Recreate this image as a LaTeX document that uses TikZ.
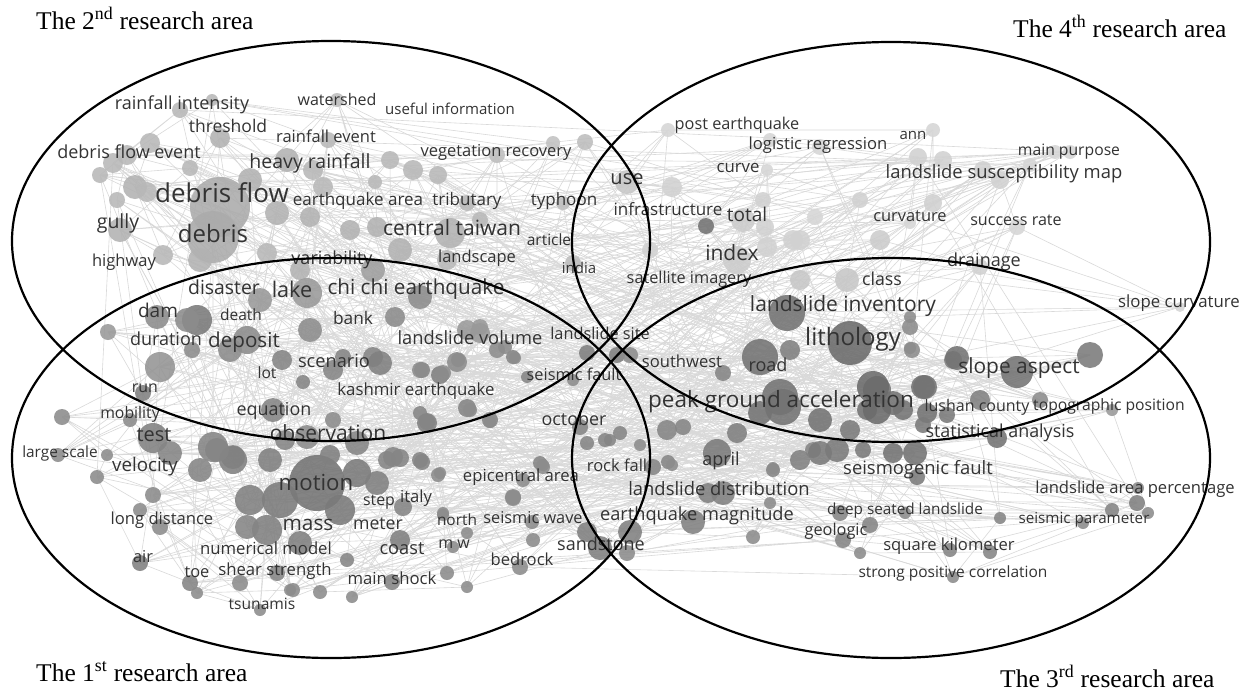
\documentclass[tikz,border=0pt]{standalone}
\usepackage{fontspec}
\setsansfont{Open Sans}
\newfontfamily\titlefont{Liberation Serif}
\begin{document}
\begin{tikzpicture}[x=1pt,y=-1pt,
  edge/.style={draw=black!15, line width=0.6pt},
  bubble/.style={opacity=0.88},
  lbl/.style={inner sep=0pt, anchor=mid, text=black!80},
  areatitle/.style={inner sep=0pt, anchor=base west, font=\titlefont\fontsize{25.5}{25.5}\selectfont},
  ring/.style={draw=black, line width=2.2pt}]
\useasboundingbox (0,0) rectangle (1250,691);
\fill[white] (0,0) rectangle (1250,691);
\def\bubbles{%
180/110/8/28, 212/100/6/28, 220/138/10/30, 150/143/10/28, 113/163/10/28, 127/155/10/28, 190/168/8/28, 135/187/12/30, 147/192/10/28, 117/200/8/28, 120/230/12/30, 220/207/30/33, 213/237/26/33, 200/260/12/30, 163/255/10/28, 267/253/10/28, 310/217/10/30, 277/213/12/30, 323/187/10/28, 287/160/12/30, 313/170/10/28, 337/100/7/26, 328/140/8/28, 390/160/9/28, 375/182/7/28, 377/227/10/30, 413/170/10/28, 438/175/9/28, 497/155/8/26, 553/143/7/24, 585/142/8/26, 450/233/15/30, 467/203/8/28, 480/220/8/28, 563/203/7/26, 447/260/10/28, 573/263/8/26, 100/175/8/28, 250/180/12/30, 350/230/10/30, 400/250/12/30, 300/270/10/30,
627/182/12/22, 672/187/10/18, 706/226/8/55, 743/220/12/20, 765/227/9/18, 763/200/8/18, 737/260/14/20, 767/247/10/18, 793/240/10/18, 668/130/7/16, 770/140/7/16, 767/170/6/16, 650/250/8/18, 933/130/7/16, 918/157/9/18, 943/160/9/18, 820/147/8/16, 933/203/9/18, 910/223/6/16, 815/217/8/16, 983/170/9/18, 1000/180/9/18, 1030/165/7/16, 1055/152/7/16, 1070/152/7/16, 1017/227/8/16, 980/267/8/18, 800/240/10/18, 847/280/12/22, 1180/307/5/16, 800/280/10/22, 880/240/10/20, 860/200/8/18,
197/320/15/52, 157/317/12/45, 108/332/8/40, 192/350/8/45, 230/350/12/45, 160/367/15/42, 143/393/8/50, 62/417/8/45, 130/420/7/45, 153/438/15/50, 170/453/12/48, 107/455/6/45, 58/455/7/45, 213/447/15/48, 233/457/12/48, 282/360/10/48, 247/340/14/45, 303/382/7/48, 273/410/12/48, 310/330/12/45, 333/370/10/48, 373/357/10/48, 395/317/10/45, 333/420/8/45, 307/437/12/45, 357/443/12/48, 420/297/12/45, 380/363/12/50, 343/357/8/48, 422/370/8/48, 440/375/9/50, 457/362/10/45, 480/333/10/40, 497/350/8/45, 513/357/7/48, 527/377/6/48, 427/423/10/50, 467/408/9/48, 490/420/8/48, 540/463/7/48, 420/460/8/48, 393/457/10/48, 260/300/12/40, 307/293/15/40, 373/270/12/38, 187/320/12/45,
317/483/28/55, 280/500/18/52, 340/510/15/52, 250/500/15/50, 233/460/14/50, 217/450/12/48, 357/473/14/52, 377/483/12/50, 387/460/9/48, 400/458/9/48, 422/462/8/48, 438/475/7/45, 300/543/12/50, 267/530/15/50, 247/527/12/48, 400/540/10/50, 403/507/9/48, 347/560/7/48, 293/590/7/45, 320/592/7/45, 352/597/6/45, 392/582/8/48, 447/573/7/45, 467/587/6/45, 453/547/6/45, 467/533/6/45, 443/513/6/45, 513/497/8/45, 532/522/7/45, 533/540/7/45, 520/567/8/45, 543/465/6/45, 587/443/7/48, 610/440/6/48, 97/477/7/45, 153/495/8/45, 140/510/7/45, 160/527/8/45, 140/563/8/50, 190/583/8/48, 197/593/6/45, 240/583/8/45, 260/610/6/45, 277/573/8/48, 290/590/6/45, 200/470/12/48, 270/460/12/50, 330/455/10/50, 285/440/10/48,
420/413/7/48, 470/410/7/45, 490/422/6/45, 427/422/8/48, 467/330/10/40, 480/327/8/40, 505/347/7/45, 515/358/6/45, 458/360/7/45, 420/370/8/45, 443/373/8/45, 587/353/8/50, 617/355/8/50, 630/355/8/45, 573/380/6/45, 580/427/8/48, 605/440/7/48, 620/433/7/48, 640/445/6/45, 667/430/10/48, 683/427/8/48, 737/433/10/50, 760/357/18/55, 787/313/18/55, 783/407/18/55, 668/462/7/48, 653/467/8/48, 717/453/14/52, 773/470/7/48, 813/450/8/48, 723/373/8/48, 850/343/22/58, 910/327/8/45, 912/350/8/45, 953/360/9/50, 780/397/18/55, 877/390/14/55, 893/403/12/55, 923/387/12/55, 867/410/10/55, 927/413/10/55, 760/413/12/55, 957/358/12/55, 1017/372/16/55, 1090/355/13/52, 925/387/12/55, 873/387/16/58, 877/410/14/58, 903/410/10/55, 923/425/8/52, 947/415/8/52, 997/438/10/55, 1112/410/6/40, 820/453/12/52, 837/450/12/52, 863/450/8/52, 893/453/10/55, 915/453/12/55, 917/477/8/52, 840/513/8/48, 870/525/8/48, 843/540/8/48, 860/553/6/45, 1000/518/6/48, 905/513/6/45, 950/550/7/48, 990/552/7/48, 953/577/6/45, 1083/523/6/45, 1112/510/7/48, 1137/503/8/50, 1148/513/6/45, 1138/488/6/45, 910/317/6/45, 910/348/6/45, 543/467/7/45, 523/480/7/45, 513/498/8/45, 440/473/6/45, 443/515/6/45, 587/532/10/50, 600/548/12/50, 627/553/8/45, 630/532/12/50, 693/522/12/50, 708/493/10/50, 723/493/12/50, 753/537/7/45, 770/503/6/45, 773/468/6/45, 672/465/6/45, 820/420/12/55, 850/430/10/52, 980/400/10/50, 1040/400/8/45, 790/350/10/50, 800/460/10/50}
% coordinates of the bubbles
\foreach \x/\y/\r/\g [count=\i] in \bubbles {\coordinate (b\i) at (\x,\y); \xdef\nb{\i}}
% faint links
\foreach \i in {1,...,\nb} {
  \pgfmathtruncatemacro\j{mod(\i*37,\nb)+1}
  \pgfmathtruncatemacro\k{mod(\i*53+13,\nb)+1}
  \pgfmathtruncatemacro\m{mod(\i+3,\nb)+1}
  \pgfmathtruncatemacro\n{mod(\i*29+101,\nb)+1}
  \draw[edge] (b\i) -- (b\j) (b\i) -- (b\k) (b\i) -- (b\m) (b\i) -- (b\n);
}
% bubbles
\foreach \x/\y/\r/\g [count=\i] in \bubbles {\fill[bubble, black!\g] (b\i) circle[radius=\r pt];}
% labels
\foreach \x/\y/\s/\t [count=\i] in {
182/107/18/rainfall intensity, 337/103/16/watershed, 450/112/15/useful information, 228/130/17.5/threshold, 326/140/16.5/rainfall event, 129/156/18/debris flow event, 310/166/19.5/heavy rainfall, 222/200/26/debris flow, 358/203/17/earthquake area, 118/226/19.5/gully, 213/240/24/debris, 124/264/16.5/highway, 332/262/18/variability, 496/154/16.5/vegetation recovery, 627/182/20/use, 467/203/17/tributary, 564/203/17/typhoon, 668/213/17/infrastructure, 747/219/19/total, 452/233/21/central taiwan, 549/243/15.5/article, 477/260/16.5/landscape, 579/271/15/india, 732/258/21/index, 689/281/16.3/satellite imagery, 737/127/16.3/post earthquake, 818/147/16.6/logistic regression, 738/170/16.8/curve, 913/137/15/ann, 1069/153/15.7/main purpose, 1004/176/18.4/landslide susceptibility map, 910/219/16.4/curvature, 1016/223/16.1/success rate, 984/264/18/drainage, 882/283/17.8/class, 843/309/21/landslide inventory, 1179/305/16.8/slope curvature, 853/343/24/lithology, 768/369/18/road, 682/365/16.6/southwest, 781/405/22.5/peak ground acceleration, 600/337/16.3/landslide site, 470/342/18.3/landslide volume, 574/378/16.3/seismic fault, 416/393/16.8/kashmir earthquake, 574/423/17.9/october, 617/469/16.5/rock fall, 721/463/18/april, 224/292/19.4/disaster, 292/295/21.6/lake, 416/292/20.7/chi chi earthquake, 241/318/15.5/death, 353/322/17.3/bank, 244/345/20.6/deposit, 166/343/18/duration, 334/365/18.2/scenario, 267/376/15.6/lot, 274/413/17.9/equation, 328/438/21/observation, 158/315/19/dam, 145/390/15.9/run, 130/416/15.8/mobility, 154/439/19.9/test, 60/455/15.4/large scale, 145/469/18.7/velocity, 316/488/22.2/motion, 379/503/15.9/step, 416/500/16.6/italy, 162/522/16.6/long distance, 308/528/20.8/mass, 378/527/17.7/meter, 266/552/16.7/numerical model, 402/552/18.2/coast, 143/560/16.4/air, 197/575/16.4/toe, 275/573/16.7/shear strength, 392/582/16.7/main shock, 262/607/15.6/tsunamis, 521/479/16.7/epicentral area, 457/523/15.4/north, 533/521/16.3/seismic wave, 454/546/16/m w, 522/563/16.6/bedrock, 601/548/18/sandstone, 697/518/18.2/earthquake magnitude, 719/493/18.4/landslide distribution, 1019/371/20.9/slope aspect, 977/409/16/lushan county, 1109/408/15.7/topographic position, 1000/435/17.9/statistical analysis, 918/472/18.4/seismogenic fault, 1135/491/16.6/landslide area percentage, 905/512/15.3/deep seated landslide, 1084/521/15.2/seismic parameter, 836/533/16.3/geologic, 949/548/16.6/square kilometer, 953/575/15.5/strong positive correlation}
  {\node[lbl, font=\sffamily\fontsize{\s}{\s}\selectfont] (l\i) at (\x,\y) {\t};}
% research areas
\draw[ring] (331,241) ellipse [x radius=319pt, y radius=200pt];
\draw[ring] (891,242) ellipse [x radius=319pt, y radius=200pt];
\draw[ring] (331,458) ellipse [x radius=319pt, y radius=200pt];
\draw[ring] (891,458) ellipse [x radius=319pt, y radius=200pt];
\node[areatitle] (t2) at (36,29) {The 2\textsuperscript{nd} research area};
\node[areatitle] (t4) at (1013,37) {The 4\textsuperscript{th} research area};
\node[areatitle] (t1) at (36,681) {The 1\textsuperscript{st} research area};
\node[areatitle] (t3) at (1000,687) {The 3\textsuperscript{rd} research area};
\end{tikzpicture}
\end{document}
